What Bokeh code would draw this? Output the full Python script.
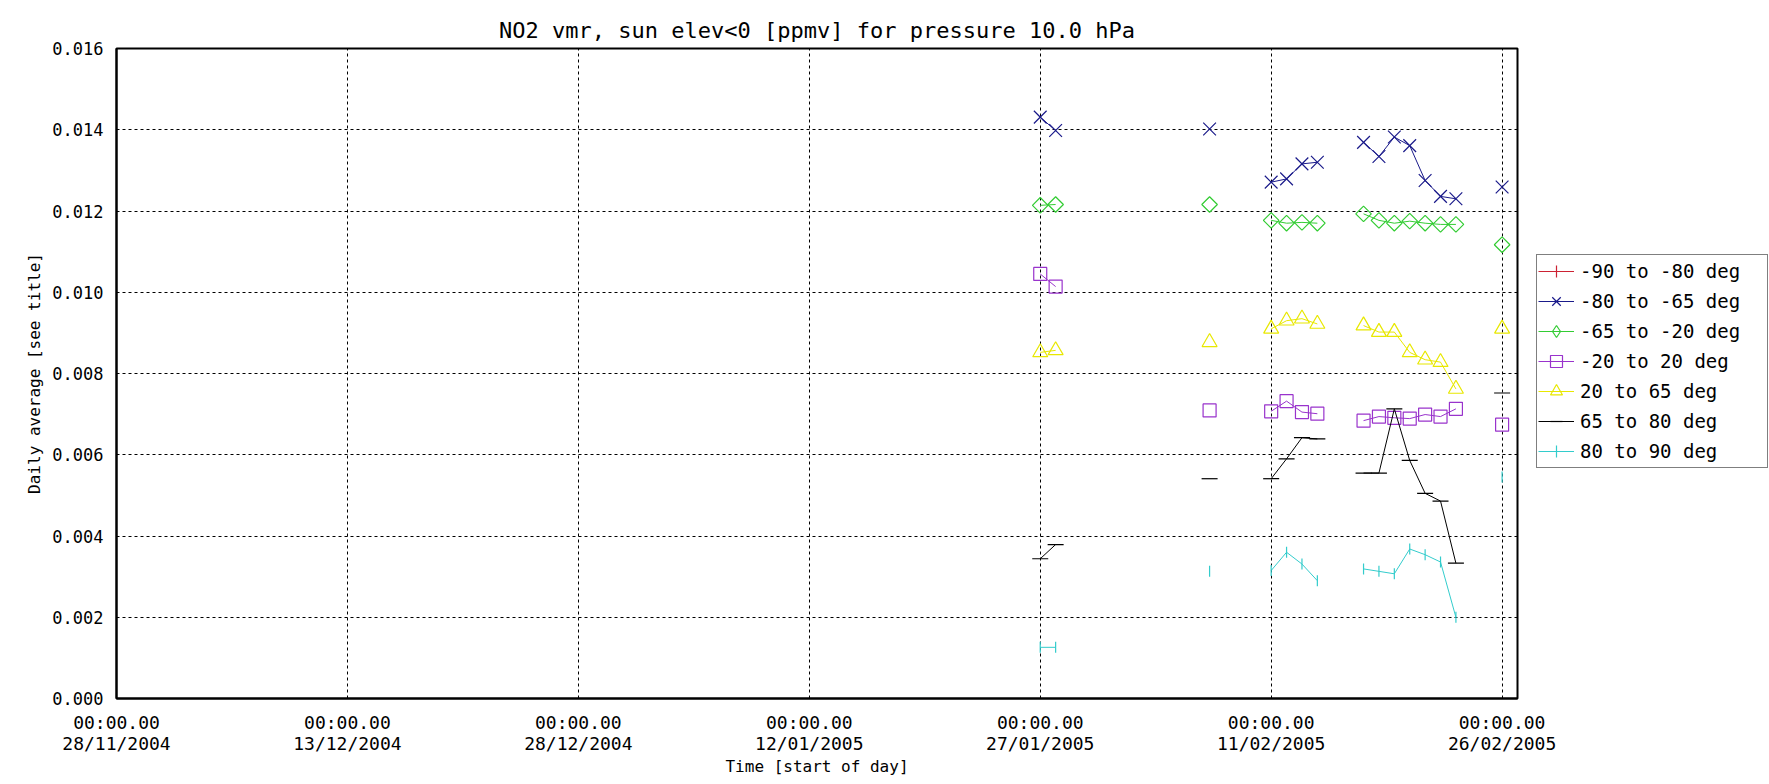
from datetime import datetime, timedelta
from bokeh.plotting import figure
from bokeh.models import (Range1d, FixedTicker, Legend, LegendItem, ColumnDataSource,
                          PrintfTickFormatter)
from bokeh.embed import file_html
from bokeh.resources import INLINE

# ---------------- data ----------------
dates = ["2005-01-27", "2005-01-28", "2005-02-07", "2005-02-11", "2005-02-12",
         "2005-02-13", "2005-02-14", "2005-02-17", "2005-02-18", "2005-02-19",
         "2005-02-20", "2005-02-21", "2005-02-22", "2005-02-23", "2005-02-26"]

series_labels = ["-90 to -80 deg", "-80 to -65 deg", "-65 to -20 deg",
                 "-20 to 20 deg", "20 to 65 deg", "65 to 80 deg", "80 to 90 deg"]

lat_m90_m80 = [float("nan")]  # no valid data in this band
lat_m80_m65 = [0.01431, 0.01398, 0.01402, 0.01271, 0.01279, 0.01316, 0.01320,
               0.01369, 0.01334, 0.01382, 0.01361, 0.01275, 0.01236, 0.01230, 0.01259]
lat_m65_m20 = [0.01214, 0.01216, 0.01216, 0.01177, 0.01170, 0.01172, 0.01170,
               0.01193, 0.01177, 0.01170, 0.01175, 0.01170, 0.01167, 0.01167, 0.01117]
lat_m20_20 = [0.01045, 0.01014, 0.00709, 0.00707, 0.00732, 0.00705, 0.00701,
              0.00684, 0.00694, 0.00691, 0.00689, 0.00699, 0.00694, 0.00713, 0.00674]
lat_20_65 = [0.00852, 0.00857, 0.00877, 0.00910, 0.00930, 0.00935, 0.00922,
             0.00918, 0.00902, 0.00902, 0.00852, 0.00834, 0.00828, 0.00762, 0.00910]
lat_65_80 = [0.00344, 0.00379, 0.00541, 0.00541, 0.00590, 0.00642, 0.00639,
             0.00555, 0.00555, 0.00713, 0.00586, 0.00505, 0.00486, 0.00333, 0.00752]
lat_80_90 = [0.00126, 0.00126, 0.00313, 0.00315, 0.00360, 0.00331, 0.00290,
             0.00319, 0.00313, 0.00307, 0.00368, 0.00354, 0.00336, 0.00200, 0.00545]

x_tick_dates = ["2004-11-28", "2004-12-13", "2004-12-28", "2005-01-12",
                "2005-01-27", "2005-02-11", "2005-02-26"]
x_tick_labels = ["00:00.00\n28/11/2004", "00:00.00\n13/12/2004", "00:00.00\n28/12/2004",
                 "00:00.00\n12/01/2005", "00:00.00\n27/01/2005", "00:00.00\n11/02/2005",
                 "00:00.00\n26/02/2005"]
y_ticks = [0.000, 0.002, 0.004, 0.006, 0.008, 0.010, 0.012, 0.014, 0.016]

# ---------------- helpers ----------------
EPOCH = datetime(1970, 1, 1)
NAN = float("nan")


def to_ms(s):
    d = datetime.strptime(s, "%Y-%m-%d")
    return (d - EPOCH).total_seconds() * 1000.0


def broken_line(ds, vs):
    """Insert NaN where consecutive days are not adjacent (IDL-style gaps)."""
    xs, ys = [], []
    prev = None
    for d, v in zip(ds, vs):
        t = datetime.strptime(d, "%Y-%m-%d")
        if prev is not None and (t - prev) > timedelta(days=1):
            xs.append(NAN)
            ys.append(NAN)
        xs.append(to_ms(d))
        ys.append(v)
        prev = t
    return xs, ys


FONT = "DejaVu Sans Mono"

p = figure(
    x_axis_type="datetime",
    frame_width=1401, frame_height=650,
    min_border_left=116, min_border_right=0,
    min_border_top=48, min_border_bottom=86,
    output_backend="svg", toolbar_location=None,
    title="NO2 vmr, sun elev<0 [ppmv] for pressure 10.0 hPa",
)
p.x_range = Range1d(to_ms("2004-11-28"), to_ms("2005-02-27"))
p.y_range = Range1d(0.0, 0.016)

p.title.align = "center"
p.title.text_font = FONT
p.title.text_font_size = "22px"
p.title.text_font_style = "normal"
p.title.text_color = "black"
p.title.standoff = 11

p.background_fill_color = "white"
p.border_fill_color = "white"
p.outline_line_color = "black"
p.outline_line_width = 2
p.outline_line_alpha = 1.0

# axes
xt = [to_ms(d) for d in x_tick_dates]
p.xaxis.ticker = FixedTicker(ticks=xt)
p.xaxis.major_label_overrides = {t: lab for t, lab in zip(xt, x_tick_labels)}
p.yaxis.ticker = FixedTicker(ticks=y_ticks)
p.yaxis.formatter = PrintfTickFormatter(format="%.3f")

for ax in (p.xaxis[0], p.yaxis[0]):
    ax.axis_line_color = "black"
    ax.axis_line_width = 2
    ax.major_tick_line_color = None
    ax.minor_tick_line_color = None
    ax.major_label_text_font = FONT
    ax.major_label_text_color = "black"
    ax.axis_label_text_font = FONT
    ax.axis_label_text_font_style = "normal"
    ax.axis_label_text_color = "black"

p.xaxis.major_label_text_font_size = "18px"
p.xaxis.major_label_text_line_height = 1.0
p.xaxis.major_label_standoff = 7
p.xaxis.axis_label = "Time [start of day]"
p.xaxis.axis_label_text_font_size = "16px"
p.xaxis.axis_label_standoff = 0

p.yaxis.major_label_text_font_size = "17px"
p.yaxis.major_label_standoff = 7
p.yaxis.axis_label = "Daily average [see title]"
p.yaxis.axis_label_text_font_size = "16px"
p.yaxis.axis_label_standoff = 5

for g in (p.xgrid[0], p.ygrid[0]):
    g.grid_line_color = "black"
    g.grid_line_width = 1
    g.grid_line_dash = "3 3"
    g.grid_line_alpha = 1.0

# ---------------- series ----------------
# legend_marker: how the marker is shown in the legend (legend ignores rotation)
styles = [
    dict(vals=lat_m90_m80, color="#cc2233", marker="cross", size=16, angle=0.0,
         legend_marker=None, legend_size=None),
    dict(vals=lat_m80_m65, color="#1a1a8a", marker="x", size=18, angle=0.0,
         legend_marker=None, legend_size=None),
    dict(vals=lat_m65_m20, color="#33cc33", marker="square", size=11, angle=0.785398,
         legend_marker="diamond", legend_size=15),
    dict(vals=lat_m20_20, color="#9933cc", marker="square", size=13, angle=0.0,
         legend_marker=None, legend_size=None),
    dict(vals=lat_20_65, color="#e8e800", marker="triangle", size=15, angle=0.0,
         legend_marker=None, legend_size=None),
    dict(vals=lat_65_80, color="black", marker="dash", size=16, angle=0.0,
         legend_marker=None, legend_size=None),
    dict(vals=lat_80_90, color="#33cccc", marker="dash", size=11, angle=1.5707963,
         legend_marker="cross", legend_size=12),
]

items = []
for lab, st in zip(series_labels, styles):
    ds = dates[:len(st["vals"])]
    lx, ly = broken_line(ds, st["vals"])
    src_line = ColumnDataSource(dict(x=lx, y=ly))
    src_pts = ColumnDataSource(dict(x=[to_ms(d) for d in ds], y=list(st["vals"])))
    r1 = p.line("x", "y", source=src_line, line_color=st["color"], line_width=1)
    r2 = p.scatter("x", "y", source=src_pts, marker=st["marker"], size=st["size"],
                   angle=st["angle"], line_color=st["color"], fill_color=None,
                   line_width=1.2)
    rends = [r1, r2]
    if st["legend_marker"] is not None:
        # legend-only marker renderer (one NaN point, never drawn in the plot)
        r3 = p.scatter("x", "y", source=ColumnDataSource(dict(x=[NAN], y=[NAN])),
                       marker=st["legend_marker"], size=st["legend_size"],
                       line_color=st["color"], fill_color=None, line_width=1.2)
        rends = [r1, r3]
    items.append(LegendItem(label=lab, renderers=rends))

legend = Legend(
    items=items,
    location=(19, 230),
    orientation="vertical",
    border_line_color="black",
    border_line_width=1,
    background_fill_color="white",
    background_fill_alpha=1.0,
    label_text_font=FONT,
    label_text_font_size="19px",
    label_text_color="black",
    label_height=30,
    glyph_height=30,
    glyph_width=36,
    label_width=186,
    label_standoff=6,
    spacing=0,
    padding=1,
    margin=0,
)
p.add_layout(legend, "right")

open("out.html", "w").write(file_html(p, INLINE))
